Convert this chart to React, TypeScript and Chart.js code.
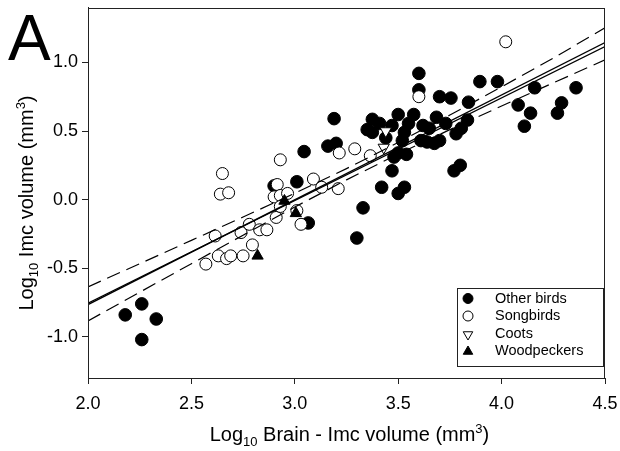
import React, { useEffect, useRef } from 'react';
import { Chart, registerables } from 'chart.js';

Chart.register(...registerables);

// ---------- data ----------
const otherBirds: [number, number][] = [
  [2.18, -0.84], [2.26, -0.76], [2.33, -0.87], [2.26, -1.02],
  [2.90, 0.10], [3.01, 0.13], [3.045, 0.35], [3.065, -0.17],
  [3.16, 0.39], [3.20, 0.41], [3.19, 0.59], [3.30, -0.28],
  [3.33, -0.06], [3.35, 0.51], [3.375, 0.49], [3.375, 0.585],
  [3.41, 0.555], [3.42, 0.09], [3.44, 0.45], [3.47, 0.54],
  [3.47, 0.21], [3.48, 0.31], [3.50, 0.34], [3.50, 0.045],
  [3.53, 0.09], [3.50, 0.62], [3.53, 0.49], [3.52, 0.43],
  [3.54, 0.33], [3.55, 0.555], [3.575, 0.62], [3.60, 0.92],
  [3.60, 0.80], [3.61, 0.43], [3.62, 0.54], [3.64, 0.42],
  [3.65, 0.52], [3.675, 0.41], [3.685, 0.60], [3.70, 0.43],
  [3.70, 0.75], [3.73, 0.555], [3.755, 0.74], [3.78, 0.48],
  [3.805, 0.52], [3.835, 0.58], [3.77, 0.21], [3.80, 0.25],
  [3.84, 0.71], [3.895, 0.86], [3.98, 0.86], [4.08, 0.69],
  [4.11, 0.535], [4.14, 0.63], [4.16, 0.815], [4.27, 0.63],
  [4.29, 0.705], [4.36, 0.815],
];

const songbirds: [number, number][] = [
  [2.57, -0.47], [2.615, -0.265], [2.63, -0.41], [2.64, 0.04],
  [2.65, 0.19], [2.68, 0.05], [2.67, -0.43], [2.69, -0.41],
  [2.74, -0.24], [2.75, -0.41], [2.78, -0.18], [2.795, -0.33],
  [2.83, -0.22], [2.865, -0.22], [2.91, -0.13], [2.915, 0.11],
  [2.90, 0.02], [2.93, 0.03], [2.965, 0.045], [2.93, -0.05],
  [2.93, 0.29], [3.01, -0.08], [3.03, -0.18], [3.09, 0.15],
  [3.13, 0.09], [3.21, 0.08], [3.215, 0.34], [3.29, 0.37],
  [3.365, 0.32], [3.60, 0.75], [4.02, 1.15],
];

const coots: [number, number][] = [
  [3.44, 0.50], [3.43, 0.38],
];

const woodpeckers: [number, number][] = [
  [2.82, -0.41], [2.95, -0.01], [3.005, -0.10],
];

const fitLineA: [number, number][] = [[2.0, -0.765], [4.5, 1.145]];
const fitLineB: [number, number][] = [[2.0, -0.755], [4.5, 1.115]];

const bandX = [2.0, 2.25, 2.5, 2.75, 3.0, 3.25, 3.5, 3.75, 4.0, 4.25, 4.5];
const bandUpper = [-0.636, -0.467, -0.297, -0.127, 0.046, 0.226, 0.416, 0.616, 0.822, 1.031, 1.252];
const bandLower = [-0.884, -0.675, -0.467, -0.259, -0.054, 0.144, 0.332, 0.510, 0.682, 0.851, 1.018];

const xTicks = [2.0, 2.5, 3.0, 3.5, 4.0, 4.5];
const yTicks = [-1.0, -0.5, 0.0, 0.5, 1.0];

const legendLabels = ['Other birds', 'Songbirds', 'Coots', 'Woodpeckers'];
const panelLabel = 'A';

const FONT = "'Liberation Sans', Arial, Helvetica, sans-serif";
const INK = '#000';
const AXIS = '#222';

type Part = { t: string; size: number; dy: number };

const xTitleParts: Part[] = [
  { t: 'Log', size: 20, dy: 0 },
  { t: '10', size: 13, dy: 5 },
  { t: ' Brain - Imc volume (mm', size: 20, dy: 0 },
  { t: '3', size: 13, dy: -8 },
  { t: ')', size: 20, dy: 0 },
];
const yTitleParts: Part[] = [
  { t: 'Log', size: 20, dy: 0 },
  { t: '10', size: 13, dy: 5 },
  { t: ' Imc volume (mm', size: 20, dy: 0 },
  { t: '3', size: 13, dy: -8 },
  { t: ')', size: 20, dy: 0 },
];

const toPts = (arr: [number, number][]) => arr.map(([x, y]) => ({ x, y }));

function drawRich(ctx: CanvasRenderingContext2D, parts: Part[], cx: number, baseline: number) {
  let total = 0;
  for (const p of parts) {
    ctx.font = `${p.size}px ${FONT}`;
    total += ctx.measureText(p.t).width;
  }
  let x = cx - total / 2;
  ctx.textAlign = 'left';
  ctx.textBaseline = 'alphabetic';
  for (const p of parts) {
    ctx.font = `${p.size}px ${FONT}`;
    ctx.fillText(p.t, x, baseline + p.dy);
    x += ctx.measureText(p.t).width;
  }
}

function drawCircle(ctx: CanvasRenderingContext2D, x: number, y: number, r: number, filled: boolean) {
  ctx.beginPath();
  ctx.arc(x, y, r, 0, Math.PI * 2);
  ctx.fillStyle = filled ? INK : '#fff';
  ctx.fill();
  ctx.lineWidth = 1;
  ctx.strokeStyle = INK;
  ctx.stroke();
}

function drawTriangle(ctx: CanvasRenderingContext2D, x: number, y: number, r: number, down: boolean, filled: boolean) {
  ctx.beginPath();
  const s = down ? -1 : 1;
  for (let i = 0; i < 3; i++) {
    const a = (i * 2 * Math.PI) / 3;
    const px = x + Math.sin(a) * r;
    const py = y - s * Math.cos(a) * r;
    if (i === 0) ctx.moveTo(px, py);
    else ctx.lineTo(px, py);
  }
  ctx.closePath();
  ctx.fillStyle = filled ? INK : '#fff';
  ctx.fill();
  ctx.lineWidth = 1;
  ctx.strokeStyle = INK;
  ctx.stroke();
}

const decorPlugin = {
  id: 'decor',
  afterDraw(chart: any) {
    const ctx: CanvasRenderingContext2D = chart.ctx;
    const a = chart.chartArea;
    ctx.save();
    // frame (top & right)
    ctx.strokeStyle = AXIS;
    ctx.lineWidth = 1;
    ctx.strokeRect(Math.round(a.left) + 0.5, Math.round(a.top) + 0.5, Math.round(a.right - a.left) - 1, Math.round(a.bottom - a.top) - 1);

    // panel label
    ctx.fillStyle = INK;
    ctx.font = `64px ${FONT}`;
    ctx.textAlign = 'left';
    ctx.textBaseline = 'alphabetic';
    ctx.fillText(panelLabel, 8, 60);

    // axis titles
    drawRich(ctx, xTitleParts, (a.left + a.right) / 2 + 3, 441);
    ctx.save();
    ctx.translate(26, 203);
    ctx.rotate(-Math.PI / 2);
    drawRich(ctx, yTitleParts, 0, 7);
    ctx.restore();

    // legend
    const lx = 457.5, ly = 288.5, lw = 146, lh = 78;
    ctx.fillStyle = '#fff';
    ctx.fillRect(lx, ly, lw, lh);
    ctx.strokeStyle = AXIS;
    ctx.lineWidth = 1;
    ctx.strokeRect(lx, ly, lw, lh);
    const rows = [298.5, 316, 333.5, 351];
    const mx = 468;
    drawCircle(ctx, mx, rows[0], 5, true);
    drawCircle(ctx, mx, rows[1], 5, false);
    drawTriangle(ctx, mx, rows[2] + 1, 5.5, true, false);
    drawTriangle(ctx, mx, rows[3] + 0.5, 5.5, false, true);
    ctx.fillStyle = INK;
    ctx.font = `14.5px ${FONT}`;
    ctx.textAlign = 'left';
    ctx.textBaseline = 'middle';
    legendLabels.forEach((l, i) => ctx.fillText(l, 495, rows[i]));
    ctx.restore();
  },
};

export default function App() {
  const ref = useRef<HTMLCanvasElement | null>(null);

  useEffect(() => {
    document.body.style.margin = '0';
    const canvas = ref.current;
    if (!canvas) return;

    const lineDs = (data: { x: number; y: number }[], dashed: boolean) => ({
      type: 'line' as const,
      data,
      showLine: true,
      borderColor: INK,
      borderWidth: dashed ? 1.2 : 1.3,
      borderDash: dashed ? [14, 7] : [],
      pointRadius: 0,
      fill: false,
      tension: 0,
      order: 0,
    });

    const chart = new Chart(canvas, {
      type: 'scatter',
      data: {
        datasets: [
          {
            label: legendLabels[0],
            data: toPts(otherBirds),
            pointStyle: 'circle',
            pointRadius: 6.3,
            backgroundColor: INK,
            borderColor: INK,
            borderWidth: 1,
            order: 4,
          },
          {
            label: legendLabels[1],
            data: toPts(songbirds),
            pointStyle: 'circle',
            pointRadius: 6,
            backgroundColor: '#fff',
            borderColor: INK,
            borderWidth: 1,
            order: 3,
          },
          {
            label: legendLabels[2],
            data: toPts(coots),
            pointStyle: 'triangle',
            rotation: 180,
            pointRadius: 6.5,
            backgroundColor: '#fff',
            borderColor: INK,
            borderWidth: 1,
            order: 2,
          } as any,
          {
            label: legendLabels[3],
            data: toPts(woodpeckers),
            pointStyle: 'triangle',
            pointRadius: 6.5,
            backgroundColor: INK,
            borderColor: INK,
            borderWidth: 1,
            order: 1,
          },
          lineDs(toPts(fitLineA), false),
          lineDs(toPts(fitLineB), false),
          lineDs(bandX.map((x, i) => ({ x, y: bandUpper[i] })), true),
          lineDs(bandX.map((x, i) => ({ x, y: bandLower[i] })), true),
        ] as any,
      },
      options: {
        responsive: false,
        animation: false,
        events: [],
        layout: { padding: { left: 0, right: 15, top: 7, bottom: 0 } },
        plugins: {
          legend: { display: false },
          tooltip: { enabled: false },
          title: { display: false },
        },
        scales: {
          x: {
            type: 'linear',
            min: 2.0,
            max: 4.5,
            afterBuildTicks: (s: any) => {
              s.ticks = xTicks.map((v) => ({ value: v }));
            },
            afterFit: (s: any) => {
              s.height = 73;
              s.paddingLeft = 0;
              s.paddingRight = 0;
            },
            ticks: {
              color: INK,
              font: { family: FONT, size: 18 },
              padding: 9,
              maxRotation: 0,
              autoSkip: false,
              callback: (v: any) => Number(v).toFixed(1),
            },
            grid: { display: true, drawOnChartArea: false, drawTicks: true, tickLength: 6, color: AXIS, lineWidth: 1 },
            border: { display: true, color: AXIS, width: 1 },
          },
          y: {
            type: 'linear',
            min: -1.3,
            max: 1.4,
            afterBuildTicks: (s: any) => {
              s.ticks = yTicks.map((v) => ({ value: v }));
            },
            afterFit: (s: any) => {
              s.width = 88;
              s.paddingTop = 0;
              s.paddingBottom = 0;
            },
            ticks: {
              color: INK,
              font: { family: FONT, size: 18 },
              padding: 4,
              autoSkip: false,
              callback: (v: any) => Number(v).toFixed(1),
            },
            grid: { display: true, drawOnChartArea: false, drawTicks: true, tickLength: 6, color: AXIS, lineWidth: 1 },
            border: { display: true, color: AXIS, width: 1 },
          },
        },
      } as any,
      plugins: [decorPlugin],
    });

    return () => chart.destroy();
  }, []);

  return (
    <div style={{ width: 620, height: 451, background: '#fff' }}>
      <canvas ref={ref} width={620} height={451} style={{ display: 'block', width: 620, height: 451 }} />
    </div>
  );
}
